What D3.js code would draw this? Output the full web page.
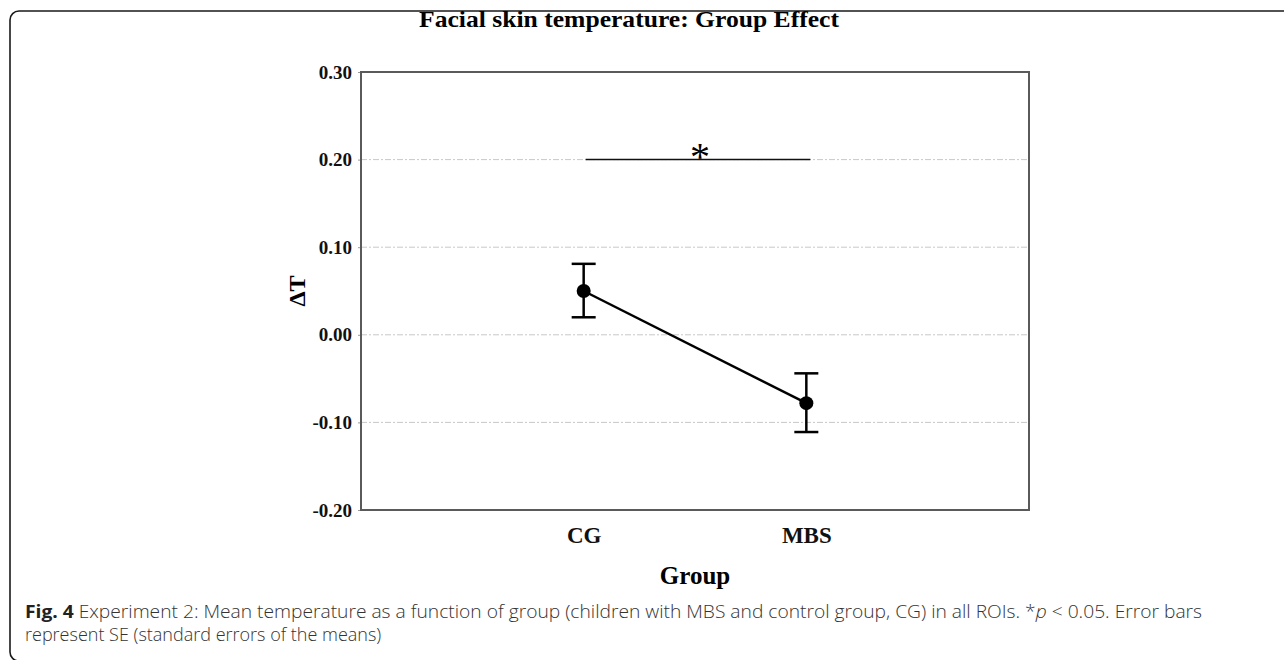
<!DOCTYPE html>
<html>
<head>
<meta charset="utf-8">
<script src="https://cdn.jsdelivr.net/npm/d3@7"></script>
<style>
  body { margin: 0; background: #fff; }
</style>
</head>
<body>
<div id="chart"></div>
<script>
// data
var groups = ["CG", "MBS"];
var means = [0.050, -0.078];
var seLow = [0.020, -0.111];
var seHigh = [0.081, -0.044];
var yTicks = [0.30, 0.20, 0.10, 0.00, -0.10, -0.20];
var gridTicks = [0.20, 0.10, 0.00, -0.10];
var sigLevel = 0.20;

var W = 1284, H = 660;
var box = { left: 361, right: 1029, top: 72, bottom: 510 };

var svg = d3.select("#chart")
	.append("svg")
	.attr("width", W)
	.attr("height", H);

// outer figure frame (runs off the right and bottom edges)
svg.append("rect")
	.attr("x", 10)
	.attr("y", 11)
	.attr("width", 1320)
	.attr("height", 650)
	.attr("rx", 9)
	.attr("fill", "none")
	.attr("stroke", "#1a1a1a")
	.attr("stroke-width", 1.6);

var x = d3.scalePoint()
	.domain(groups)
	.range([box.left, box.right])
	.padding(1);

var y = d3.scaleLinear()
	.domain([-0.20, 0.30])
	.range([box.bottom, box.top]);

var serif = "'Liberation Serif', 'Times New Roman', serif";

// title
svg.append("text")
	.attr("x", 629)
	.attr("y", 27)
	.attr("text-anchor", "middle")
	.attr("font-family", serif)
	.attr("font-weight", "bold")
	.attr("font-size", 24)
	.attr("textLength", 420)
	.attr("lengthAdjust", "spacingAndGlyphs")
	.text("Facial skin temperature: Group Effect");

// dashed grid
svg.append("g")
	.selectAll("line")
	.data(gridTicks)
	.enter()
	.append("line")
	.attr("x1", box.left)
	.attr("x2", box.right)
	.attr("y1", function(d) { return y(d); })
	.attr("y2", function(d) { return y(d); })
	.attr("stroke", "#c8c8c8")
	.attr("stroke-width", 1)
	.attr("stroke-dasharray", "6,2,2,2");

// y axis labels via d3 axis (plain hyphen for minus, as in the figure)
var fmt = d3.format(".2f");
var yAxis = svg.append("g")
	.attr("transform", "translate(" + box.left + ",0)")
	.call(d3.axisLeft(y)
		.tickValues(yTicks)
		.tickSize(3)
		.tickPadding(6)
		.tickFormat(function(d) { return fmt(d).replace("\u2212", "-"); }));
yAxis.select(".domain").remove();
yAxis.selectAll(".tick line").attr("stroke", "#999");
yAxis.selectAll("text")
	.attr("font-family", serif)
	.attr("font-weight", "bold")
	.attr("font-size", 19)
	.attr("fill", "#111");

// x axis labels
var xAxis = svg.append("g")
	.attr("transform", "translate(0," + box.bottom + ")")
	.call(d3.axisBottom(x).tickSize(0).tickPadding(17));
xAxis.select(".domain").remove();
xAxis.selectAll("text")
	.attr("font-family", serif)
	.attr("font-weight", "bold")
	.attr("font-size", 23)
	.attr("fill", "#111");

// plot frame
svg.append("rect")
	.attr("x", box.left)
	.attr("y", box.top)
	.attr("width", box.right - box.left)
	.attr("height", box.bottom - box.top)
	.attr("fill", "none")
	.attr("stroke", "#5a5a5a")
	.attr("stroke-width", 2);

// axis titles
svg.append("text")
	.attr("transform", "translate(305," + ((box.top + box.bottom) / 2) + ") rotate(-90)")
	.attr("text-anchor", "middle")
	.attr("font-family", serif)
	.attr("font-weight", "bold")
	.attr("font-size", 24)
	.text("\u0394T");

svg.append("text")
	.attr("x", (box.left + box.right) / 2)
	.attr("y", 584)
	.attr("text-anchor", "middle")
	.attr("font-family", serif)
	.attr("font-weight", "bold")
	.attr("font-size", 25)
	.text("Group");

// significance bar
svg.append("line")
	.attr("x1", x("CG") + 2)
	.attr("x2", x("MBS") + 4)
	.attr("y1", y(sigLevel))
	.attr("y2", y(sigLevel))
	.attr("stroke", "#111")
	.attr("stroke-width", 1.5);

svg.append("text")
	.attr("x", (x("CG") + x("MBS")) / 2 + 5)
	.attr("y", y(sigLevel) + 10)
	.attr("text-anchor", "middle")
	.attr("font-family", serif)
	.attr("font-size", 40)
	.text("*");

var pts = groups.map(function(g, i) {
	return { g: g, m: means[i], lo: seLow[i], hi: seHigh[i] };
});

// error bars
var eb = svg.append("g").selectAll("g")
	.data(pts)
	.enter()
	.append("g")
	.attr("stroke", "#000")
	.attr("stroke-width", 2.5);
eb.append("line")
	.attr("x1", function(d) { return x(d.g); })
	.attr("x2", function(d) { return x(d.g); })
	.attr("y1", function(d) { return y(d.lo); })
	.attr("y2", function(d) { return y(d.hi); });
eb.append("line")
	.attr("x1", function(d) { return x(d.g) - 12; })
	.attr("x2", function(d) { return x(d.g) + 12; })
	.attr("y1", function(d) { return y(d.lo); })
	.attr("y2", function(d) { return y(d.lo); });
eb.append("line")
	.attr("x1", function(d) { return x(d.g) - 12; })
	.attr("x2", function(d) { return x(d.g) + 12; })
	.attr("y1", function(d) { return y(d.hi); })
	.attr("y2", function(d) { return y(d.hi); });

// mean line
svg.append("path")
	.datum(pts)
	.attr("d", d3.line()
		.x(function(d) { return x(d.g); })
		.y(function(d) { return y(d.m); }))
	.attr("fill", "none")
	.attr("stroke", "#000")
	.attr("stroke-width", 2.5);

svg.append("g").selectAll("circle")
	.data(pts)
	.enter()
	.append("circle")
	.attr("cx", function(d) { return x(d.g); })
	.attr("cy", function(d) { return y(d.m); })
	.attr("r", 7)
	.attr("fill", "#000");

// caption
var cap = svg.append("g")
	.attr("font-family", "'Open Sans', 'Noto Sans', sans-serif")
	.attr("font-size", 18)
	.attr("fill", "#333");

var l1 = cap.append("text")
	.attr("x", 25)
	.attr("y", 618)
	.attr("textLength", 1177)
	.attr("lengthAdjust", "spacingAndGlyphs");
l1.append("tspan").attr("font-weight", "bold").attr("fill", "#222").text("Fig. 4");
l1.append("tspan").attr("font-weight", 300).text(" Experiment 2: Mean temperature as a function of group (children with MBS and control group, CG) in all ROIs. *");
l1.append("tspan").attr("font-weight", 300).attr("font-style", "italic").text("p");
l1.append("tspan").attr("font-weight", 300).text(" < 0.05. Error bars");

cap.append("text")
	.attr("x", 25)
	.attr("y", 641)
	.attr("font-weight", 300)
	.text("represent SE (standard errors of the means)");
</script>
</body>
</html>
